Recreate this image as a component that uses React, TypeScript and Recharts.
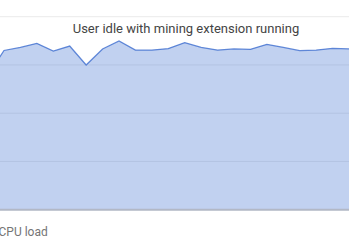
import React from 'react';
import { AreaChart, Area, XAxis, YAxis, CartesianGrid, ReferenceLine } from 'recharts';

// sample index along the time axis (the first one is cut off on the left)
const samples = [0, 1, 2, 3, 4, 5, 6, 7, 8, 9, 10, 11, 12, 13, 14, 15, 16, 17, 18, 19, 20, 21, 22];
const cpuLoad = [69.5, 82.5, 84.1, 86.2, 82.2, 84.8, 75.0, 83.3, 87.4, 82.7, 82.7, 83.5, 86.6, 84.1, 82.7, 83.3, 83.1, 85.7, 84.1, 82.4, 82.7, 83.6, 83.3];
const yTicks = [0, 25, 50, 75, 100];

const title = 'User idle with mining extension running';
const seriesName = 'CPU load';

const data = samples.map((s, i) => ({ t: s, load: cpuLoad[i] }));

export default function App() {
  return (
    <div style={{ position: 'absolute', left: 0, top: 0, width: 359, height: 250, overflow: 'hidden', background: '#fff', fontFamily: 'Roboto, sans-serif' }}>
      <div style={{ position: 'absolute', left: -20, top: 0 }}>
        <AreaChart width={380} height={250} data={data} margin={{ top: 16.7, right: 11, bottom: 40.3, left: 7.57 }}>
          <CartesianGrid vertical={false} stroke="#ebebeb" strokeWidth={1} />
          <XAxis dataKey="t" type="number" domain={[0, 22]} hide />
          <YAxis type="number" domain={[0, 100]} ticks={yTicks} hide />
          <Area
            type="linear"
            dataKey="load"
            name={seriesName}
            stroke="#3366cc"
            strokeWidth={1.3}
            strokeOpacity={0.75}
            fill="#3366cc"
            fillOpacity={0.3}
            isAnimationActive={false}
          />
          <ReferenceLine y={0} stroke="#b2b8c6" strokeWidth={2} />
        </AreaChart>
      </div>
      <div style={{ position: 'absolute', left: 186, top: 20.5, transform: 'translateX(-50%)', whiteSpace: 'nowrap', fontSize: 13, lineHeight: '15px', color: '#444' }}>
        {title}
      </div>
      <div style={{ position: 'absolute', left: -1.5, top: 225, whiteSpace: 'nowrap', fontSize: 12, lineHeight: '14px', color: '#757575' }}>
        {seriesName}
      </div>
    </div>
  );
}
